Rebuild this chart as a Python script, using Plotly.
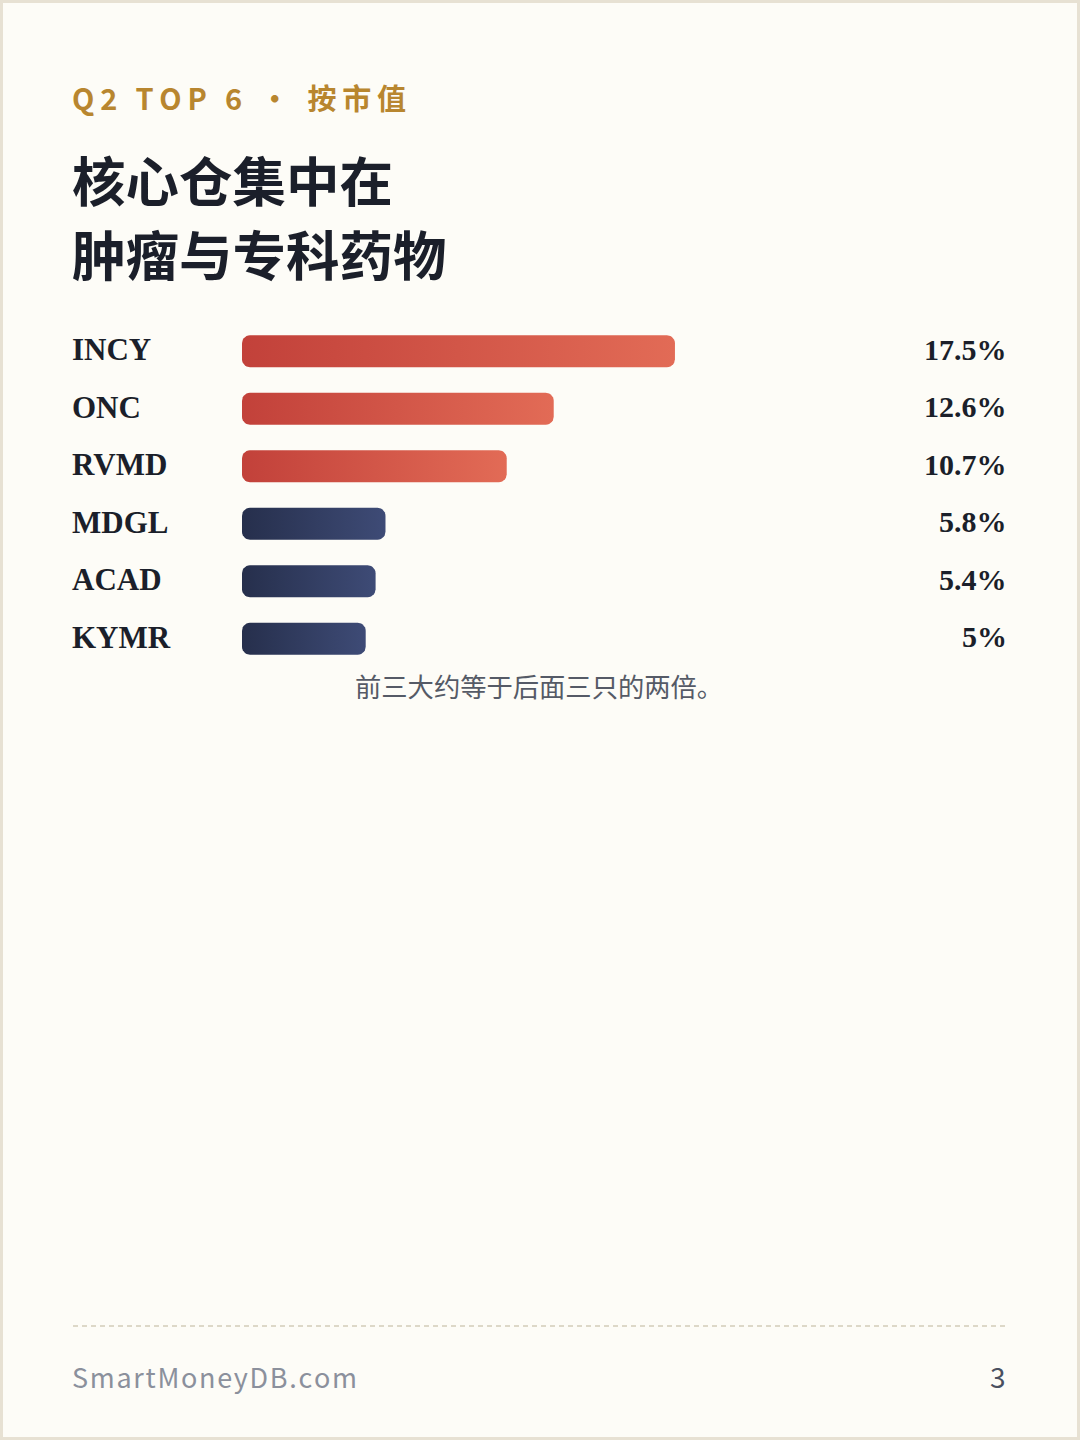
import numpy as np
import plotly.graph_objects as go

# 数据
tickers = ["INCY", "ONC", "RVMD", "MDGL", "ACAD", "KYMR"]
weights = [17.5, 12.6, 10.7, 5.8, 5.4, 5.0]
value_labels = ["17.5%", "12.6%", "10.7%", "5.8%", "5.4%", "5%"]
groups = ["top", "top", "top", "rest", "rest", "rest"]

kicker = "Q2 TOP 6 · 按市值"
title_lines = ["核心仓集中在", "肿瘤与专科药物"]
caption = "前三大约等于后面三只的两倍。"
footer_left = "SmartMoneyDB.com"
footer_right = "3"

# 画布尺寸
W, H = 1080, 1440
BG = "#fdfcf7"
INK = "#1b1f2a"
GOLD = "#b8862f"
GRADIENTS = {
    "top": [[0, "#c2413a"], [1, "#e26b56"]],
    "rest": [[0, "#262f4c"], [1, "#3e4b76"]],
}

# 坐标换算（像素）
BAR_X0 = 242
PX_PER_UNIT = 24.74
X_END = 1004
ROW_TOP = 322.5
ROW_STEP = 57.5
BAR_H = 32
RADIUS = 8

x_range_max = (X_END - BAR_X0) / PX_PER_UNIT
n = len(tickers)


def py(px):
    return 1 - px / H


def rounded_bar(value, row):
    """圆角条形的轮廓（数据坐标）"""
    hh = (BAR_H / 2) / ROW_STEP
    rx = RADIUS / PX_PER_UNIT
    ry = RADIUS / ROW_STEP
    t = np.linspace(0, np.pi / 2, 8)
    xs, ys = [], []
    # 右上、右下、左下、左上四个角
    corners = [
        (value - rx, row - hh + ry, -np.pi / 2),
        (value - rx, row + hh - ry, 0),
        (rx, row + hh - ry, np.pi / 2),
        (rx, row - hh + ry, np.pi),
    ]
    for cx, cy, a0 in corners:
        xs.extend(cx + rx * np.cos(a0 + t))
        ys.extend(cy + ry * np.sin(a0 + t))
    xs.append(xs[0])
    ys.append(ys[0])
    return xs, ys


fig = go.Figure()

for i, (tk, w, g) in enumerate(zip(tickers, weights, groups)):
    xs, ys = rounded_bar(w, i)
    fig.add_trace(go.Scatter(
        x=xs, y=ys,
        mode="lines",
        line=dict(width=0, color=GRADIENTS[g][1][1]),
        fill="toself",
        fillgradient=dict(type="horizontal", colorscale=GRADIENTS[g]),
        name=tk,
        hoverinfo="skip",
        showlegend=False,
    ))

annotations = []

# 左侧代码、右侧数值
for i, (tk, lab) in enumerate(zip(tickers, value_labels)):
    annotations.append(dict(
        x=70 / W, xref="paper", y=i, yref="y", yshift=1.5,
        text=tk, showarrow=False, xanchor="left", yanchor="middle",
        font=dict(family="Liberation Serif, Times New Roman, serif", size=31, color=INK, weight="bold"),
    ))
    annotations.append(dict(
        x=1009 / W, xref="paper", y=i, yref="y", yshift=2,
        text=lab, showarrow=False, xanchor="right", yanchor="middle",
        font=dict(family="Liberation Serif, Times New Roman, serif", size=30, color=INK, weight="bold"),
    ))

# 标题区
spaced_kicker = "\u2009".join(list(kicker))
annotations.append(dict(
    x=70 / W, xref="paper", y=py(97), yref="paper",
    text=spaced_kicker, showarrow=False, xanchor="left", yanchor="middle",
    font=dict(family="Noto Sans CJK SC", size=29, color=GOLD, weight="bold"),
))
for line, cy in zip(title_lines, [178, 253]):
    annotations.append(dict(
        x=70 / W, xref="paper", y=py(cy), yref="paper",
        text=line, showarrow=False, xanchor="left", yanchor="middle",
        font=dict(family="Noto Sans CJK SC", size=53.5, color=INK, weight="bold"),
    ))

# 说明文字
annotations.append(dict(
    x=539 / W, xref="paper", y=py(685), yref="paper",
    text=caption, showarrow=False, xanchor="center", yanchor="middle",
    font=dict(family="Noto Sans CJK SC", size=26.3, color="#555a66"),
))

# 页脚
spaced_footer = "\u200a".join(list(footer_left))
annotations.append(dict(
    x=70 / W, xref="paper", y=py(1376), yref="paper",
    text=spaced_footer, showarrow=False, xanchor="left", yanchor="middle",
    font=dict(family="Noto Sans CJK SC", size=27, color="#8b909c"),
))
annotations.append(dict(
    x=1008 / W, xref="paper", y=py(1376), yref="paper",
    text=footer_right, showarrow=False, xanchor="right", yanchor="middle",
    font=dict(family="Noto Sans CJK SC", size=28, color="#4a5060"),
))

shapes = [
    # 页面边框
    dict(type="rect", xref="paper", yref="paper", x0=0, x1=1, y0=0, y1=1,
         line=dict(color="#e7e1d3", width=6), fillcolor="rgba(0,0,0,0)", layer="above"),
    # 虚线分隔
    dict(type="line", xref="paper", yref="paper", x0=73 / W, x1=1006 / W,
         y0=py(1326), y1=py(1326), line=dict(color="#ddd8c8", width=2, dash="5px,4px")),
]

fig.update_layout(
    width=W, height=H,
    margin=dict(l=0, r=0, t=0, b=0),
    paper_bgcolor=BG, plot_bgcolor=BG,
    annotations=annotations,
    shapes=shapes,
    showlegend=False,
    xaxis=dict(
        domain=[BAR_X0 / W, X_END / W], range=[0, x_range_max],
        visible=False, fixedrange=True,
    ),
    yaxis=dict(
        domain=[py(ROW_TOP + n * ROW_STEP), py(ROW_TOP)],
        range=[n - 0.5, -0.5],
        visible=False, fixedrange=True,
    ),
)

fig.write_html(
    "out.html",
    config={"displayModeBar": False},
    post_script="document.body.style.margin='0';",
)
